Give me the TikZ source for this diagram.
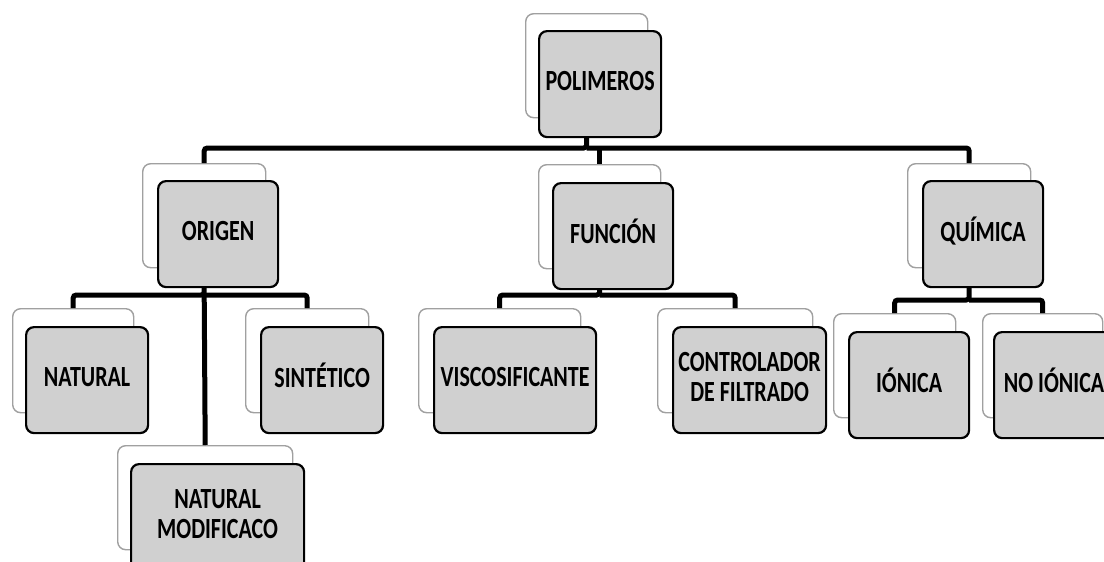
\documentclass[tikz,border=0pt]{standalone}
\usepackage{fontspec}
\setmainfont{Carlito}
\usepackage{graphicx}
\usepackage{xcolor}
\definecolor{boxgray}{RGB}{208,208,208}
\definecolor{edgegray}{RGB}{160,160,160}
\newcommand{\tall}[1]{\scalebox{1}[1.33]{\begin{tabular}{@{}c@{}}#1\end{tabular}}}

\begin{document}
\begin{tikzpicture}[x=1pt,y=-1pt,
  back/.style={draw=edgegray,line width=1.4pt,fill=white,rounded corners=8pt,
    anchor=north west,inner sep=0pt,minimum height=104pt},
  front/.style={draw=black,line width=2.2pt,fill=boxgray,rounded corners=8pt,
    anchor=north west,inner sep=0pt,minimum height=106pt,
    font=\bfseries\fontsize{22}{22.5}\selectfont},
  conn/.style={line width=5pt,rounded corners=3pt}]
\useasboundingbox (0,0) rectangle (1104,562);
\coordinate (bus1) at (0,148);
\coordinate (bus2) at (0,295);
\coordinate (bus3) at (0,300);
\node[back,minimum width=122pt] (pol-b) at (525,13) {};
\node[back,minimum width=123pt] (ori-b) at (142,163) {};
\node[back,minimum width=122pt] (fun-b) at (538,164) {};
\node[back,minimum width=123pt] (qui-b) at (907,163) {};
\node[back,minimum width=121pt] (nat-b) at (12,308) {};
\node[back,minimum width=123pt] (sin-b) at (245,308) {};
\node[back,minimum width=175pt] (mod-b) at (117,445) {};
\node[back,minimum width=162pt] (vis-b) at (418,308) {};
\node[back,minimum width=155pt] (con-b) at (657,308) {};
\node[back,minimum width=122pt] (ion-b) at (833,313) {};
\node[back,minimum width=120pt] (noi-b) at (982,313) {};
\draw[conn] (pol-b.south) -- (pol-b.south |- bus1) -| (ori-b.north);
\draw[conn] (pol-b.south |- bus1) -| (qui-b.north);
\draw[conn] (fun-b.north |- bus1) -- (fun-b.north);
\draw[conn] (ori-b.south) -- (ori-b.south |- bus2) -| (nat-b.north);
\draw[conn] (ori-b.south |- bus2) -| (sin-b.north);
\draw[conn] (ori-b.south |- bus2) -- (mod-b.north);
\draw[conn] (fun-b.south) -- (fun-b.south |- bus2) -| (vis-b.north);
\draw[conn] (fun-b.south |- bus2) -| (con-b.north);
\draw[conn] (qui-b.south) -- (qui-b.south |- bus3) -| (ion-b.north);
\draw[conn] (qui-b.south |- bus3) -| (noi-b.north);
\node[front,minimum width=122pt] (pol) at (538,30) {\tall{POLIMEROS}};
\node[front,minimum width=120pt] (ori) at (157,180) {\tall{ORIGEN}};
\node[front,minimum width=120pt] (fun) at (552,182) {\tall{FUNCIÓN}};
\node[front,minimum width=120pt] (qui) at (922,180) {\tall{QUÍMICA}};
\node[front,minimum width=122pt] (nat) at (25,326) {\tall{NATURAL}};
\node[front,minimum width=122pt] (sin) at (260,326) {\tall{SINTÉTICO}};
\node[front,minimum width=173pt] (mod) at (130,463) {\tall{NATURAL\\MODIFICACO}};
\node[front,minimum width=162pt] (vis) at (433,326) {\tall{VISCOSIFICANTE}};
\node[front,minimum width=153pt] (con) at (672,326) {\tall{CONTROLADOR\\DE FILTRADO}};
\node[front,minimum width=120pt] (ion) at (848,331) {\tall{IÓNICA}};
\node[front,minimum width=120pt] (noi) at (993,331) {\tall{NO IÓNICA}};
\end{tikzpicture}
\end{document}
